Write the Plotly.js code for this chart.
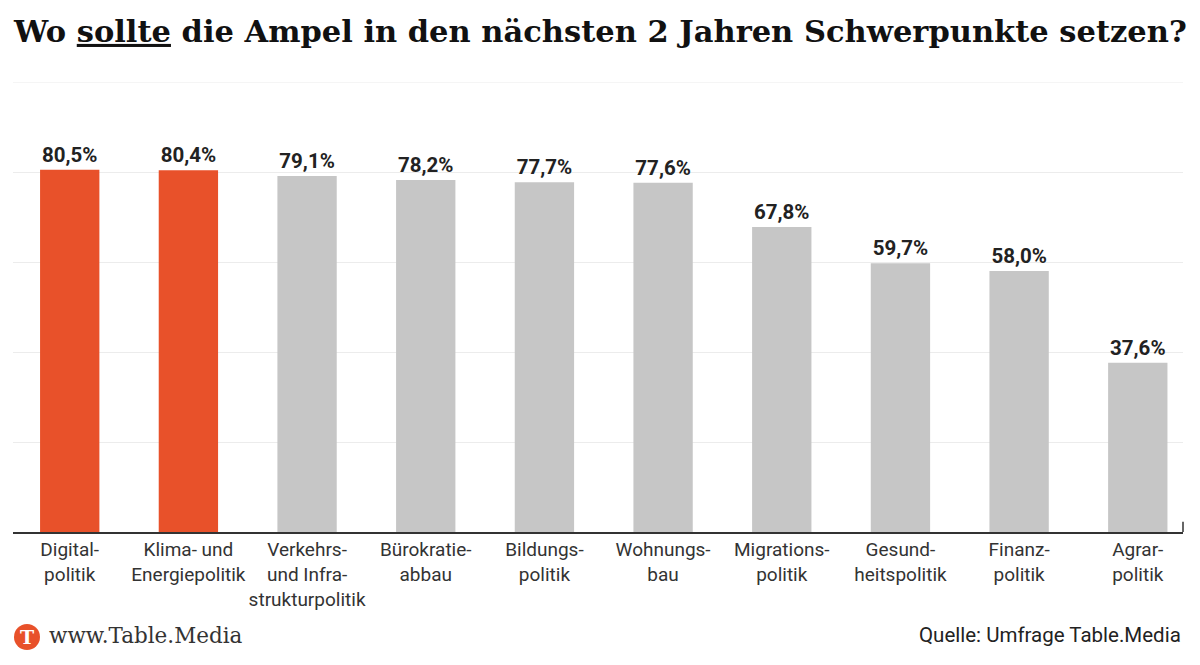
<!DOCTYPE html>
<html>
<head>
<meta charset="utf-8">
<script src="https://cdn.plot.ly/plotly-3.0.1.min.js"></script>
<style>html,body{margin:0;padding:0;background:#fff;}#chart{width:1200px;height:665px;}</style>
</head>
<body>
<div id="chart"></div>
<script>
const categories = [
  "Digital-<br>politik",
  "Klima- und<br>Energiepolitik",
  "Verkehrs-<br>und Infra-<br>strukturpolitik",
  "Bürokratie-<br>abbau",
  "Bildungs-<br>politik",
  "Wohnungs-<br>bau",
  "Migrations-<br>politik",
  "Gesund-<br>heitspolitik",
  "Finanz-<br>politik",
  "Agrar-<br>politik"
];
const values = [80.5, 80.4, 79.1, 78.2, 77.7, 77.6, 67.8, 59.7, 58.0, 37.6];
const highlighted = [true, true, false, false, false, false, false, false, false, false];
const yTicks = [0, 20, 40, 60, 80, 100];

const ORANGE = "#E8512A";
const GRAY = "#C6C6C6";

const labels = values.map(v => v.toFixed(1).replace(".", ",") + "%");
const colors = highlighted.map(h => h ? ORANGE : GRAY);

const trace = {
  type: "bar",
  x: categories,
  y: values,
  marker: {color: colors, line: {width: 0}},
  text: labels,
  textposition: "outside",
  cliponaxis: false,
  textfont: {family: "Roboto", size: 20.5, color: "#222", weight: 700},
  hoverinfo: "skip"
};

const layout = {
  width: 1200,
  height: 665,
  paper_bgcolor: "#fff",
  plot_bgcolor: "#fff",
  margin: {l: 13, r: 17, t: 82, b: 133},
  bargap: 0.5,
  showlegend: false,
  title: {
    text: "Wo <u>sollte</u> die Ampel in den nächsten 2 Jahren Schwerpunkte setzen?",
    x: 0.0117, xanchor: "left", xref: "container",
    y: 0.953, yanchor: "middle", yref: "container",
    font: {family: "DejaVu Serif", size: 30.5, color: "#111", weight: 700}
  },
  xaxis: {
    type: "category",
    range: [-0.478, 9.381],
    showline: true, linecolor: "#333", linewidth: 1.5,
    showgrid: false, zeroline: false,
    ticks: "",
    tickangle: 0,
    tickfont: {family: "Roboto", size: 19, color: "#333"},
    fixedrange: true
  },
  yaxis: {
    range: [0, 100],
    tickvals: yTicks,
    showticklabels: false,
    showgrid: true, gridcolor: "#ececec", gridwidth: 1,
    zeroline: false, showline: false,
    fixedrange: true
  },
  shapes: [
    {type: "line", xref: "paper", yref: "y", x0: 0, x1: 1, y0: 100, y1: 100,
     line: {color: "#ececec", width: 1}},
    {type: "line", xref: "paper", yref: "y", x0: 1, x1: 1, y0: 0, y1: 2.3,
     line: {color: "#333", width: 1.5}},
    {type: "circle", xref: "paper", yref: "paper",
     xsizemode: "pixel", ysizemode: "pixel", xanchor: 0, yanchor: 0,
     x0: 1, x1: 27, y0: -118, y1: -92,
     fillcolor: ORANGE, line: {width: 0}}
  ],
  annotations: [
    {xref: "paper", yref: "paper", x: 0, y: 0, xshift: 14, yshift: -105,
     text: "<b>T</b>", showarrow: false, xanchor: "center", yanchor: "middle",
     font: {family: "DejaVu Serif", size: 19, color: "#fff"}},
    {xref: "paper", yref: "paper", x: 0, y: 0, xshift: 34, yshift: -103,
     text: "www.Table.Media", showarrow: false, xanchor: "left", yanchor: "middle",
     font: {family: "DejaVu Serif", size: 21.5, color: "#333"}},
    {xref: "paper", yref: "paper", x: 1, y: 0, xshift: 0, yshift: -103,
     text: "Quelle: Umfrage Table.Media", showarrow: false, xanchor: "right", yanchor: "middle",
     font: {family: "Roboto", size: 20.5, color: "#222"}}
  ]
};

Plotly.newPlot("chart", [trace], layout, {displayModeBar: false, staticPlot: true});
</script>
</body>
</html>
